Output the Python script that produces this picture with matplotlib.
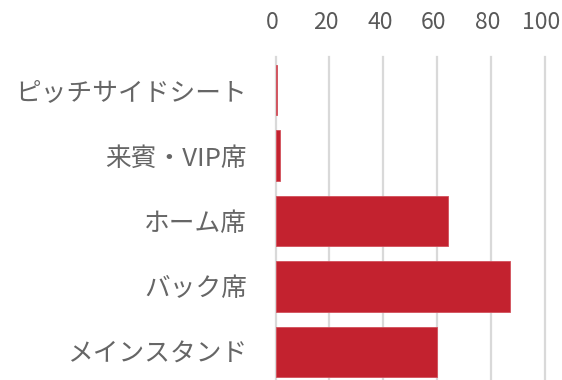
import matplotlib
matplotlib.use("Agg")
import matplotlib.pyplot as plt
import matplotlib.transforms as mtransforms
import numpy as np

plt.rcParams['font.family'] = ['Noto Sans CJK JP', 'DejaVu Sans']

categories = ['ピッチサイドシート', '来賓・VIP席', 'ホーム席', 'バック席', 'メインスタンド']
values = [0.7, 1.8, 64, 87, 60]
ticks = [0, 20, 40, 60, 80, 100]

fig = plt.figure(figsize=(5.62, 3.8), dpi=100)
ax = fig.add_axes([275.5 / 562, 0, 269.5 / 562, (380 - 57.3) / 380])

y = np.arange(len(categories))
ax.barh(y, values, height=0.77, color='#C3222F', edgecolor='#D2505B', linewidth=0.6, zorder=3)

ax.set_xlim(0, 100)
ax.set_ylim(4 + (380 - 352) / 65.3, -0.5)
ax.set_xticks(ticks)
ax.set_yticks(y)
ax.set_yticklabels(categories)
ax.xaxis.tick_top()
ax.tick_params(axis='x', length=0, labelsize=16.5, labelcolor='#595959', pad=16.5)
ax.tick_params(axis='y', length=0, labelsize=18.5, labelcolor='#666666', pad=20.5)

# top labels sit a little left of their gridlines
shift = mtransforms.ScaledTranslation(-3.5 / 100, 0, fig.dpi_scale_trans)
for lbl in ax.get_xticklabels():
    lbl.set_transform(lbl.get_transform() + shift)

ax.grid(axis='x', color='#D9D9D9', linewidth=1.6, zorder=0)
for s in ax.spines.values():
    s.set_visible(False)
for gl in ax.get_xgridlines():
    gl.set_clip_on(False)

fig.savefig('out.png', dpi=100)
